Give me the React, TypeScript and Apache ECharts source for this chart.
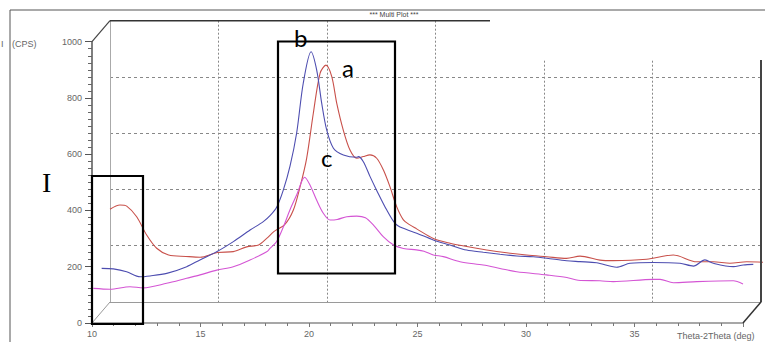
import React, { useEffect, useRef } from "react";
import * as echarts from "echarts";

// Curve a (red, back layer)
const thetaA = [10, 10.46, 10.77, 11.23, 11.69, 12.15, 12.7, 13.5, 14.15, 14.95, 15.68, 16.3, 16.85, 17.22, 17.55, 18.06, 18.45, 18.76, 19.06, 19.37, 19.68, 19.95, 20.22, 20.45, 20.75, 21.06, 21.37, 21.67, 21.98, 22.29, 22.6, 22.9, 23.21, 23.52, 23.8, 24.13, 24.9, 25.67, 26.44, 27.36, 28.28, 29.2, 30.12, 31.04, 31.66, 32.58, 33.19, 34.73, 35.96, 37.04, 37.8, 38.57, 39.34, 40.18];
const countsA = [330, 345, 341, 303, 238, 191, 167, 162, 159, 176, 179, 196, 203, 226, 250, 276, 327, 410, 510, 671, 813, 842, 801, 706, 611, 540, 511, 517, 523, 511, 469, 410, 339, 292, 275, 260, 226, 209, 197, 185, 175, 167, 161, 155, 163, 149, 147, 152, 167, 143, 143, 138, 143, 141];

// Curve b (blue, middle layer)
const thetaB = [10.03, 10.57, 11.18, 11.8, 12.26, 13.03, 13.95, 14.56, 15.33, 16.1, 16.87, 17.48, 17.8, 18.1, 18.4, 18.71, 19.02, 19.32, 19.68, 19.94, 20.17, 20.4, 20.71, 21.17, 21.78, 21.86, 22.09, 22.4, 22.7, 23.17, 23.55, 23.9, 24.55, 25.31, 26.08, 26.85, 27.62, 28.39, 29.16, 29.92, 30.54, 31.46, 32.07, 32.84, 33.76, 34.38, 35.45, 36.68, 37.3, 37.83, 38.22, 39.14, 39.6, 40.06];
const countsB = [157, 155, 145, 127, 130, 139, 163, 187, 216, 252, 293, 323, 345, 375, 435, 520, 640, 815, 927, 862, 744, 649, 584, 560, 552, 554, 536, 483, 435, 364, 317, 300, 282, 258, 240, 222, 214, 207, 201, 198, 193, 184, 181, 177, 161, 175, 178, 175, 165, 187, 175, 163, 169, 171];

// Curve c (magenta, front layer)
const thetaC = [10.06, 10.83, 11.75, 12.36, 13.44, 14.36, 14.98, 15.75, 16.51, 17.28, 18.05, 18.2, 18.51, 18.82, 19.12, 19.43, 19.8, 20.05, 20.35, 20.66, 20.97, 21.3, 21.74, 22.2, 22.6, 22.97, 23.42, 23.9, 24.35, 24.95, 25.3, 25.73, 26.19, 26.96, 28.03, 28.8, 29.57, 30.95, 31.88, 32.4, 33.41, 34.02, 35.87, 36.18, 36.79, 37.87, 39.55, 40.0];
const countsC = [123, 120, 129, 125, 141, 159, 171, 188, 200, 224, 253, 265, 290, 342, 402, 455, 518, 490, 437, 390, 366, 368, 378, 380, 374, 348, 307, 277, 265, 260, 255, 242, 236, 218, 206, 194, 182, 171, 162, 152, 150, 147, 155, 155, 143, 147, 150, 139];

const xTicks = [10, 15, 20, 25, 30, 35];
const yTicks = [0, 200, 400, 600, 800, 1000];

const zip = (xs: number[], ys: number[]) => xs.map((x, i) => [x, ys[i]]);

const FONT = "Liberation Sans";

export default function App() {
  const ref = useRef<HTMLDivElement>(null);
  useEffect(() => {
    if (!ref.current) return;
    const chart = echarts.init(ref.current, undefined, { renderer: "svg" });
    const W = 651;
    const H = 281.3;
    const grids = [
      { left: 92, top: 41.7, width: W, height: H },
      { left: 101, top: 31.2, width: W, height: H },
      { left: 110, top: 20.7, width: W, height: H },
    ];
    const hiddenX = (gi: number) => ({
      type: "value",
      gridIndex: gi,
      min: 10,
      max: 40,
      interval: 5,
      show: false,
    });
    const hiddenY = (gi: number) => ({
      type: "value",
      gridIndex: gi,
      min: 0,
      max: 1000,
      interval: 200,
      show: false,
    });
    const option: any = {
      animation: false,
      backgroundColor: "#ffffff",
      grid: grids,
      xAxis: [
        {
          type: "value",
          gridIndex: 0,
          min: 10,
          max: 40,
          interval: 5,
          axisLine: { show: true, lineStyle: { color: "#8a8a8a", width: 1.5 } },
          axisTick: { show: true, length: 4, lineStyle: { color: "#777" } },
          minorTick: { show: true, splitNumber: 5, length: 3, lineStyle: { color: "#777" } },
          splitLine: { show: false },
          axisLabel: {
            show: true,
            margin: 6,
            fontSize: 9,
            color: "#666",
            fontFamily: FONT,
            showMaxLabel: false,
            formatter: (v: number) => (xTicks.includes(v) ? String(v) : ""),
          },
        },
        hiddenX(1),
        {
          type: "value",
          gridIndex: 2,
          min: 10,
          max: 40,
          interval: 5,
          axisLine: { show: true, onZero: false, lineStyle: { color: "#9a9a9a", width: 1 } },
          axisTick: { show: false },
          axisLabel: { show: false },
          splitLine: {
            show: true,
            showMinLine: false,
            showMaxLine: false,
            lineStyle: { color: "#888", type: [2, 2], width: 1 },
          },
        },
      ],
      yAxis: [
        {
          type: "value",
          gridIndex: 0,
          min: 0,
          max: 1000,
          interval: 200,
          axisLine: { show: true, lineStyle: { color: "#555", width: 1.5 } },
          axisTick: { show: true, length: 7, lineStyle: { color: "#555" } },
          minorTick: { show: true, splitNumber: 8, length: 4, lineStyle: { color: "#666" } },
          splitLine: { show: false },
          axisLabel: {
            show: true,
            margin: 10,
            fontSize: 9,
            color: "#666",
            fontFamily: FONT,
            formatter: (v: number) => (yTicks.includes(v) ? String(v) : ""),
          },
        },
        hiddenY(1),
        {
          type: "value",
          gridIndex: 2,
          min: 0,
          max: 1000,
          interval: 200,
          axisLine: { show: true, onZero: false, lineStyle: { color: "#aaa", width: 1 } },
          axisTick: { show: false },
          axisLabel: { show: false },
          splitLine: {
            show: true,
            showMinLine: false,
            showMaxLine: false,
            lineStyle: { color: "#888", type: [3, 3], width: 1 },
          },
        },
      ],
      series: [
        {
          name: "c",
          type: "line",
          xAxisIndex: 0,
          yAxisIndex: 0,
          data: zip(thetaC, countsC),
          showSymbol: false,
          smooth: 0.3,
          lineStyle: { color: "#d455d4", width: 1.1 },
          z: 4,
        },
        {
          name: "b",
          type: "line",
          xAxisIndex: 1,
          yAxisIndex: 1,
          data: zip(thetaB, countsB),
          showSymbol: false,
          smooth: 0.3,
          clip: false,
          lineStyle: { color: "#4d4db0", width: 1.1 },
          z: 3,
        },
        {
          name: "a",
          type: "line",
          xAxisIndex: 2,
          yAxisIndex: 2,
          data: zip(thetaA, countsA),
          showSymbol: false,
          smooth: 0.3,
          clip: false,
          lineStyle: { color: "#c8504a", width: 1.1 },
          z: 2,
        },
      ],
      graphic: [
        // cover the top-right of the back panel
        { type: "rect", z: 50, shape: { x: 492, y: 12, width: 273, height: 47 }, style: { fill: "#ffffff" } },
        // page frame
        { type: "polyline", z: 60, shape: { points: [[10, 342], [10, 10], [765, 10]] }, style: { stroke: "#555", lineWidth: 1, fill: null } },
        { type: "text", z: 60, x: 394, y: 14, style: { text: "*** Multi Plot ***", font: `7px "${FONT}"`, fill: "#444", align: "center", verticalAlign: "middle" } },
        // back panel top and right edge
        { type: "line", z: 60, shape: { x1: 110, y1: 20.7, x2: 490, y2: 20.7 }, style: { stroke: "#333", lineWidth: 1.5 } },
        { type: "line", z: 60, shape: { x1: 761, y1: 60, x2: 761, y2: 302 }, style: { stroke: "#444", lineWidth: 2 } },
        // perspective diagonals
        { type: "line", z: 60, shape: { x1: 92, y1: 41.7, x2: 110, y2: 20.7 }, style: { stroke: "#444", lineWidth: 1.2 } },
        { type: "line", z: 60, shape: { x1: 92, y1: 323, x2: 110, y2: 302 }, style: { stroke: "#999", lineWidth: 1 } },
        { type: "line", z: 60, shape: { x1: 743, y1: 323, x2: 761, y2: 302 }, style: { stroke: "#333", lineWidth: 1.5 } },
        // axis titles
        { type: "text", z: 60, x: 1, y: 44, style: { text: "I", font: `9px "${FONT}"`, fill: "#666", verticalAlign: "middle" } },
        { type: "text", z: 60, x: 12, y: 44, style: { text: "(CPS)", font: `9px "${FONT}"`, fill: "#666", verticalAlign: "middle" } },
        { type: "text", z: 60, x: 677, y: 331, style: { text: "Theta-2Theta (deg)", font: `9px "${FONT}"`, fill: "#666", verticalAlign: "top" } },
        // annotation boxes
        { type: "rect", z: 70, shape: { x: 92, y: 176, width: 51, height: 148 }, style: { stroke: "#000", lineWidth: 2.2, fill: null } },
        { type: "rect", z: 70, shape: { x: 278, y: 41.5, width: 117, height: 232 }, style: { stroke: "#000", lineWidth: 2.2, fill: null } },
        // annotation letters
        { type: "text", z: 70, x: 294, y: 25, style: { text: "b", font: `24px Lato`, fill: "#000", verticalAlign: "top" } },
        { type: "text", z: 70, x: 342, y: 55, style: { text: "a", font: `24px Lato`, fill: "#000", verticalAlign: "top" } },
        { type: "text", z: 70, x: 321, y: 145, style: { text: "c", font: `24px Lato`, fill: "#000", verticalAlign: "top" } },
        { type: "text", z: 70, x: 42, y: 168, style: { text: "I", font: `28px "Liberation Serif"`, fill: "#000", verticalAlign: "top" } },
      ],
    };
    chart.setOption(option);
    return () => chart.dispose();
  }, []);
  return (
    <div
      ref={ref}
      style={{ position: "absolute", left: 0, top: 0, width: 765, height: 342, background: "#fff" }}
    />
  );
}
